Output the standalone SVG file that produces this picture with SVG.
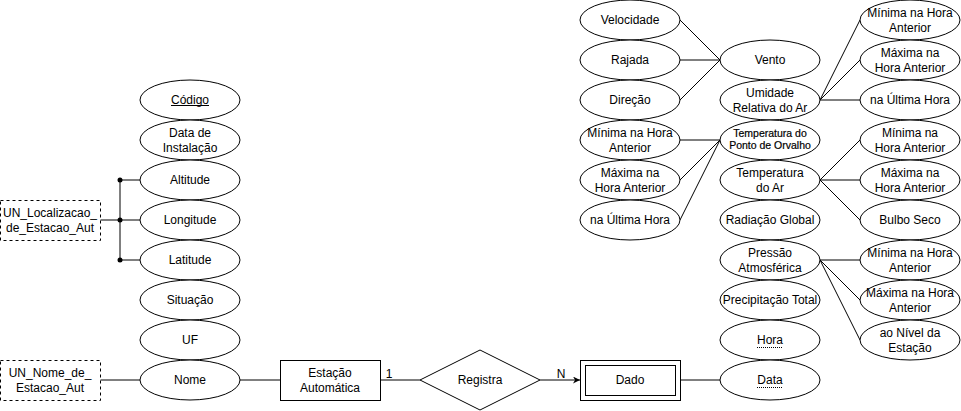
<svg xmlns="http://www.w3.org/2000/svg" width="961" height="411" viewBox="0 0 961 411">
<style>
.e{fill:#fff;stroke:#000;stroke-width:1}
.r{fill:#fff;stroke:#000;stroke-width:1}
.d{fill:#fff;stroke:#000;stroke-width:1;stroke-dasharray:3,3}
.t{font-family:"Liberation Sans",Arial,Helvetica,sans-serif;font-size:12px;fill:#000;text-anchor:middle}
.s{font-size:10.5px;stroke:#000;stroke-width:0.2}
.c{stroke:#000;stroke-width:1;fill:none}
</style>
<defs>
<marker id="arr" viewBox="0 0 10 10" refX="10" refY="5" markerWidth="7" markerHeight="7" markerUnits="userSpaceOnUse" orient="auto">
<path d="M0,0 L10,5 L0,10 L3,5 Z" fill="#000"/>
</marker>
</defs>
<rect width="961" height="411" fill="#fff"/>
<g id="connectors">
<path class="c" d="M100,220 H140"/>
<path class="c" d="M120,180 V260"/>
<path class="c" d="M120,180 H140"/>
<path class="c" d="M120,260 H140"/>
<path class="c" d="M100,380 H140"/>
<path class="c" d="M240,380 H280"/>
<path class="c" d="M380,380 H420"/>
<path class="c" d="M540,380 H580" marker-end="url(#arr)"/>
<path class="c" d="M680,380 H720"/>
<path class="c" d="M680,20 L720,60"/>
<path class="c" d="M680,60 L720,60"/>
<path class="c" d="M680,100 L720,60"/>
<path class="c" d="M680,140 L720,140"/>
<path class="c" d="M680,180 L720,140"/>
<path class="c" d="M680,220 L720,140"/>
<path class="c" d="M820,100 L860,20"/>
<path class="c" d="M820,100 L860,60"/>
<path class="c" d="M820,100 L860,100"/>
<path class="c" d="M820,180 L860,140"/>
<path class="c" d="M820,180 L860,180"/>
<path class="c" d="M820,180 L860,220"/>
<path class="c" d="M820,260 L860,260"/>
<path class="c" d="M820,260 L860,300"/>
<path class="c" d="M820,260 L860,340"/>
<circle cx="120" cy="180" r="2.5" fill="#000"/>
<circle cx="120" cy="220" r="2.5" fill="#000"/>
<circle cx="120" cy="260" r="2.5" fill="#000"/>
<text class="t" x="389" y="378">1</text>
<text class="t" x="561" y="378">N</text>
</g>
<g id="un-localizacao"><rect class="d" x="0.5" y="200.5" width="100" height="40"/><text class="t" x="50" y="217">UN_Localizacao_</text><text class="t" x="50" y="231.5">de_Estacao_Aut</text></g>
<g id="un-nome"><rect class="d" x="0.5" y="360.5" width="100" height="40"/><text class="t" x="50" y="377">UN_Nome_de_</text><text class="t" x="50" y="391.5">Estacao_Aut</text></g>
<g id="codigo"><ellipse class="e" cx="190" cy="100" rx="50" ry="20"/><text class="t" x="190" y="104">Código</text><line x1="171" y1="105.5" x2="209" y2="105.5" stroke="#000" stroke-width="1"/></g>
<g id="data-instalacao"><ellipse class="e" cx="190" cy="140" rx="50" ry="20"/><text class="t" x="190" y="137">Data de</text><text class="t" x="190" y="151.5">Instalação</text></g>
<g id="altitude"><ellipse class="e" cx="190" cy="180" rx="50" ry="20"/><text class="t" x="190" y="184">Altitude</text></g>
<g id="longitude"><ellipse class="e" cx="190" cy="220" rx="50" ry="20"/><text class="t" x="190" y="224">Longitude</text></g>
<g id="latitude"><ellipse class="e" cx="190" cy="260" rx="50" ry="20"/><text class="t" x="190" y="264">Latitude</text></g>
<g id="situacao"><ellipse class="e" cx="190" cy="300" rx="50" ry="20"/><text class="t" x="190" y="304">Situação</text></g>
<g id="uf"><ellipse class="e" cx="190" cy="340" rx="50" ry="20"/><text class="t" x="190" y="344">UF</text></g>
<g id="nome"><ellipse class="e" cx="190" cy="380" rx="50" ry="20"/><text class="t" x="190" y="384">Nome</text></g>
<g id="estacao"><rect class="r" x="280.5" y="360.5" width="100" height="40"/><text class="t" x="330" y="377">Estação</text><text class="t" x="330" y="391.5">Automática</text></g>
<g id="registra"><path class="r" d="M420,380 L480,350 L540,380 L480,410 Z"/><text class="t" x="480" y="384">Registra</text></g>
<g id="dado"><rect class="r" x="580.5" y="360.5" width="100" height="40"/><rect class="r" x="585.5" y="365.5" width="90" height="30"/><text class="t" x="630" y="384">Dado</text></g>
<g id="velocidade"><ellipse class="e" cx="630" cy="20" rx="50" ry="20"/><text class="t" x="630" y="24">Velocidade</text></g>
<g id="rajada"><ellipse class="e" cx="630" cy="60" rx="50" ry="20"/><text class="t" x="630" y="64">Rajada</text></g>
<g id="direcao"><ellipse class="e" cx="630" cy="100" rx="50" ry="20"/><text class="t" x="630" y="104">Direção</text></g>
<g id="po-minima"><ellipse class="e" cx="630" cy="140" rx="50" ry="20"/><text class="t" x="630" y="137">Mínima na Hora</text><text class="t" x="630" y="151.5">Anterior</text></g>
<g id="po-maxima"><ellipse class="e" cx="630" cy="180" rx="50" ry="20"/><text class="t" x="630" y="177">Máxima na</text><text class="t" x="630" y="191.5">Hora Anterior</text></g>
<g id="po-ultima"><ellipse class="e" cx="630" cy="220" rx="50" ry="20"/><text class="t" x="630" y="224">na Última Hora</text></g>
<g id="vento"><ellipse class="e" cx="770" cy="60" rx="50" ry="20"/><text class="t" x="770" y="64">Vento</text></g>
<g id="umidade"><ellipse class="e" cx="770" cy="100" rx="50" ry="20"/><text class="t" x="770" y="96.5">Umidade</text><text class="t" x="770" y="111.5">Relativa do Ar</text></g>
<g id="ponto-orvalho"><ellipse class="e" cx="770" cy="140" rx="50" ry="20"/><text class="t s" x="770" y="137">Temperatura do</text><text class="t s" x="770" y="149">Ponto de Orvalho</text></g>
<g id="temp-ar"><ellipse class="e" cx="770" cy="180" rx="50" ry="20"/><text class="t" x="770" y="177">Temperatura</text><text class="t" x="770" y="191.5">do Ar</text></g>
<g id="radiacao"><ellipse class="e" cx="770" cy="220" rx="50" ry="20"/><text class="t" x="770" y="224">Radiação Global</text></g>
<g id="pressao"><ellipse class="e" cx="770" cy="260" rx="50" ry="20"/><text class="t" x="770" y="257">Pressão</text><text class="t" x="770" y="271.5">Atmosférica</text></g>
<g id="precipitacao"><ellipse class="e" cx="770" cy="300" rx="50" ry="20"/><text class="t" x="770" y="304">Precipitação Total</text></g>
<g id="hora"><ellipse class="e" cx="770" cy="340" rx="50" ry="20"/><text class="t" x="770" y="344">Hora</text><line x1="757" y1="347.5" x2="783" y2="347.5" stroke="#000" stroke-width="1" stroke-dasharray="1,1"/></g>
<g id="data"><ellipse class="e" cx="770" cy="380" rx="50" ry="20"/><text class="t" x="770" y="384">Data</text><line x1="757" y1="387.5" x2="783" y2="387.5" stroke="#000" stroke-width="1" stroke-dasharray="1,1"/></g>
<g id="ur-minima"><ellipse class="e" cx="910" cy="20" rx="50" ry="20"/><text class="t" x="910" y="17">Mínima na Hora</text><text class="t" x="910" y="31.5">Anterior</text></g>
<g id="ur-maxima"><ellipse class="e" cx="910" cy="60" rx="50" ry="20"/><text class="t" x="910" y="57">Máxima na</text><text class="t" x="910" y="71.5">Hora Anterior</text></g>
<g id="ur-ultima"><ellipse class="e" cx="910" cy="100" rx="50" ry="20"/><text class="t" x="910" y="104">na Última Hora</text></g>
<g id="ta-minima"><ellipse class="e" cx="910" cy="140" rx="50" ry="20"/><text class="t" x="910" y="137">Mínima na</text><text class="t" x="910" y="151.5">Hora Anterior</text></g>
<g id="ta-maxima"><ellipse class="e" cx="910" cy="180" rx="50" ry="20"/><text class="t" x="910" y="177">Máxima na</text><text class="t" x="910" y="191.5">Hora Anterior</text></g>
<g id="bulbo"><ellipse class="e" cx="910" cy="220" rx="50" ry="20"/><text class="t" x="910" y="224">Bulbo Seco</text></g>
<g id="pa-minima"><ellipse class="e" cx="910" cy="260" rx="50" ry="20"/><text class="t" x="910" y="257">Mínima na Hora</text><text class="t" x="910" y="271.5">Anterior</text></g>
<g id="pa-maxima"><ellipse class="e" cx="910" cy="300" rx="50" ry="20"/><text class="t" x="910" y="297">Máxima na Hora</text><text class="t" x="910" y="311.5">Anterior</text></g>
<g id="pa-nivel"><ellipse class="e" cx="910" cy="340" rx="50" ry="20"/><text class="t" x="910" y="337">ao Nível da</text><text class="t" x="910" y="351.5">Estação</text></g>
</svg>
